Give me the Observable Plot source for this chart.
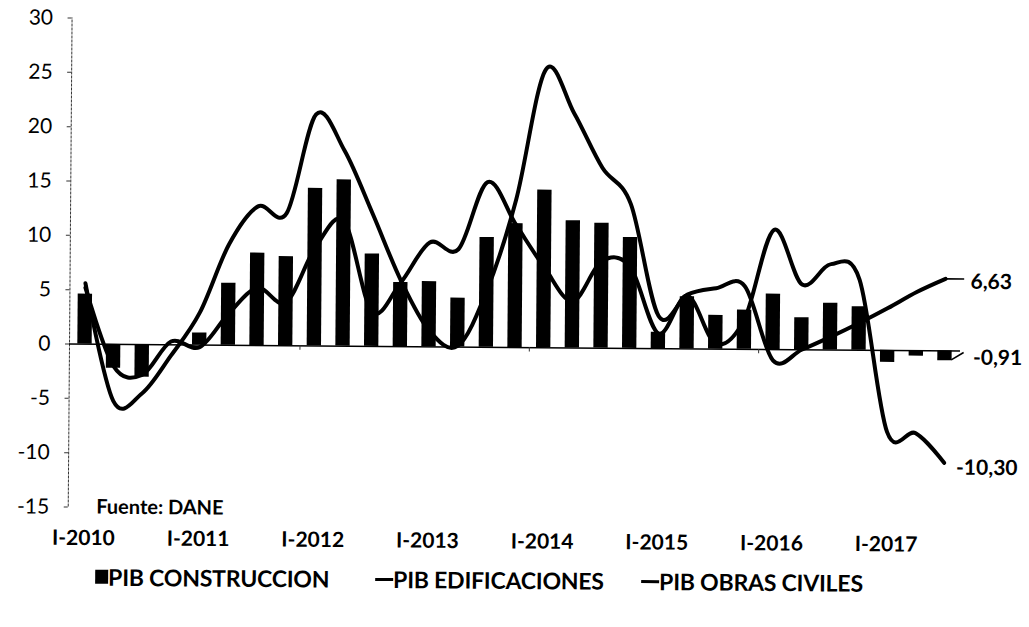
<!DOCTYPE html>
<html><head><meta charset="utf-8">
<script src="https://cdn.jsdelivr.net/npm/d3@7"></script>
<script src="https://cdn.jsdelivr.net/npm/@observablehq/plot@0.6"></script>
<style>
body{margin:0;background:#fff;}
#wrap{position:relative;width:1029px;height:627px;transform:rotate(0.45deg);transform-origin:515px 347px;font-family:Lato, sans-serif;background:#fff;}
#legend .item{position:absolute;top:567px;height:26px;display:flex;align-items:center;font-weight:bold;font-size:23px;color:#000;white-space:nowrap;letter-spacing:-0.2px;}
#legend .sq{width:13px;height:14px;background:#000;display:inline-block;}
#legend .ln{width:18px;height:3px;background:#000;display:inline-block;}
</style></head><body>
<div id="wrap"><div id="chart"></div><div id="legend"></div></div>
<script>
const quarters = [
  "I-2010","II-2010","III-2010","IV-2010",
  "I-2011","II-2011","III-2011","IV-2011",
  "I-2012","II-2012","III-2012","IV-2012",
  "I-2013","II-2013","III-2013","IV-2013",
  "I-2014","II-2014","III-2014","IV-2014",
  "I-2015","II-2015","III-2015","IV-2015",
  "I-2016","II-2016","III-2016","IV-2016",
  "I-2017","II-2017","III-2017"
];
const construccion = [4.6, -2.2, -3.0, 0.0, 1.1, 5.7, 8.5, 8.2, 14.5, 15.3, 8.5, 5.9, 6.0, 4.5, 10.1, 11.4, 14.5, 11.7, 11.5, 10.2, 1.5, 4.8, 3.1, 3.6, 5.1, 2.95, 4.3, 4.0, -1.1, -0.5, -0.91];
const edificaciones = [5.2, -2.0, -2.8, 0.3, -0.2, 2.9, 5.3, 4.0, 9.0, 11.5, 3.2, 5.9, 9.6, 9.0, 15.2, 11.3, 7.4, 4.3, 8.0, 7.5, 1.4, 4.9, 0.5, 2.8, 11.0, 6.0, 7.9, 6.5, -7.5, -7.6, -10.3];
const obrasCiviles = [5.6, -5.2, -4.5, -1.0, 3.0, 9.3, 12.8, 12.2, 21.3, 18.0, 12.2, 6.1, 1.5, 0.1, 5.2, 13.6, 25.6, 21.6, 16.6, 13.3, 3.0, 5.0, 5.6, 5.8, -1.0, 0.0, 1.2, 2.5, 3.9, 5.4, 6.63];
const yTicks = [-15, -10, -5, 0, 5, 10, 15, 20, 25, 30];
const seriesNames = ["PIB CONSTRUCCION", "PIB EDIFICACIONES", "PIB OBRAS CIVILES"];
const endLabels = ["6,63", "-0,91", "-10,30"];
const sourceNote = "Fuente: DANE";

const n = quarters.length;
const rows = quarters.map((q, i) => ({i, q, c: construccion[i], e: edificaciones[i], o: obrasCiviles[i]}));
const last = rows[n - 1];
const xDomain = [-0.54, n - 1 + 0.54];
const xTicks = rows.filter(d => d.q.startsWith("I-")).map(d => d.i);
const boundaryTicks = rows.filter(d => d.i > 0 && d.i % 8 === 0).map(d => d.i - 0.5);

const chart = Plot.plot({
  width: 1029,
  height: 560,
  marginLeft: 69,
  marginRight: 69,
  marginTop: 21,
  marginBottom: 50,
  style: {fontFamily: "Lato, sans-serif", background: "white", color: "black", overflow: "visible"},
  x: {type: "linear", domain: xDomain},
  y: {domain: [-15, 30]},
  marks: [
    Plot.ruleX([xDomain[0]], {y1: () => -15, y2: () => 30, stroke: "#333", strokeWidth: 1, strokeDasharray: "3,1"}),
    Plot.axisY({ticks: yTicks, tickSize: 4, tickPadding: 15, fontSize: 21, label: null, tickFormat: d => String(d), stroke: "#333"}),
    Plot.axisX({ticks: xTicks, tickFormat: i => quarters[i], tickSize: 0, tickPadding: 23, fontSize: 21, fontWeight: "bold", label: null}),
    Plot.rect(rows, {x1: d => d.i - 0.25, x2: d => d.i + 0.25, y1: () => 0, y2: "c", fill: "black"}),
    Plot.ruleY([0], {stroke: "black", strokeWidth: 1.4}),
    Plot.ruleX(boundaryTicks, {y1: () => 0, y2: () => -0.4, stroke: "#333"}),
    Plot.line(rows, {x: "i", y: "e", curve: "cardinal", tension: 0, stroke: "black", strokeWidth: 4}),
    Plot.line(rows, {x: "i", y: "o", curve: "cardinal", tension: 0, stroke: "black", strokeWidth: 4}),
    Plot.link([last], {x1: d => d.i, x2: d => d.i + 0.65, y1: "o", y2: "o", stroke: "black", strokeWidth: 1.6}),
    Plot.link([last], {x1: d => d.i + 0.22, x2: d => d.i + 0.65, y1: d => d.c * 0.9, y2: d => d.c * 0.15, stroke: "black", strokeWidth: 1.6}),
    Plot.text([last], {x: "i", y: "o", text: () => endLabels[0], dx: 25, dy: 3, textAnchor: "start", fontSize: 21, fontWeight: "bold"}),
    Plot.text([last], {x: "i", y: "c", text: () => endLabels[1], dx: 28, dy: -3, textAnchor: "start", fontSize: 21, fontWeight: "bold"}),
    Plot.text([last], {x: "i", y: "e", text: () => endLabels[2], dx: 12, dy: 5, textAnchor: "start", fontSize: 21, fontWeight: "bold"}),
    Plot.text([sourceNote], {frameAnchor: "bottom-left", dx: 28, textAnchor: "start", lineAnchor: "middle", fontSize: 20, fontWeight: "bold"})
  ]
});
document.getElementById("chart").append(chart);

const legend = document.getElementById("legend");
const legendLeft = [97, 377, 643];
seriesNames.forEach((name, k) => {
  const item = document.createElement("div");
  item.className = "item";
  item.style.left = legendLeft[k] + "px";
  const sw = document.createElement("span");
  sw.className = k === 0 ? "sq" : "ln";
  const tx = document.createElement("span");
  tx.textContent = name;
  item.append(sw, tx);
  legend.append(item);
});
</script>
</body></html>
